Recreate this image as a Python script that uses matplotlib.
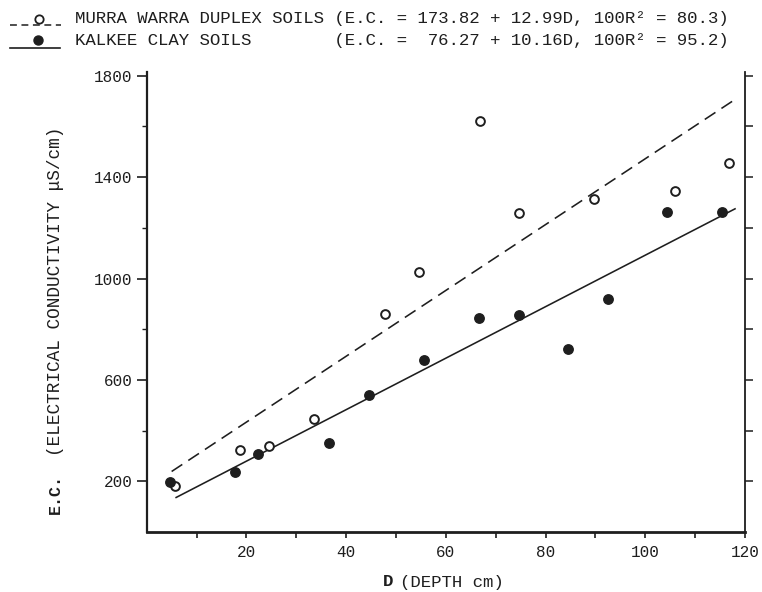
import matplotlib.pyplot as plt
from matplotlib.lines import Line2D
from matplotlib.ticker import FixedLocator

# Murra Warra duplex soils (open circles)
mw_depth = [5.6, 18.8, 24.6, 33.6, 47.7, 54.6, 66.8, 74.6, 89.8, 105.9, 116.7]
mw_ec = [182, 323, 341, 446, 862, 1026, 1623, 1258, 1312, 1346, 1454]

# Kalkee clay soils (filled circles)
kc_depth = [4.7, 17.8, 22.3, 36.6, 44.6, 55.7, 66.7, 74.7, 84.5, 92.6, 104.4, 115.4]
kc_ec = [198, 236, 307, 352, 542, 679, 844, 855, 722, 918, 1262, 1263]

# regression lines  E.C. = a + b*D
mw_fit = (173.82, 12.99)
kc_fit = (76.27, 10.16)
mw_span = (5.0, 118.5)
kc_span = (5.9, 118.0)

x_major = [20, 40, 60, 80, 100, 120]
x_minor = [10, 30, 50, 70, 90, 110]
y_major = [200, 600, 1000, 1400, 1800]
y_minor = [400, 800, 1200, 1600]
y_right = [200, 400, 600, 800, 1000, 1200, 1400, 1600, 1800]

mw_text = "MURRA WARRA DUPLEX SOILS (E.C. = 173.82 + 12.99D, 100R² = 80.3)"
kc_text = "KALKEE CLAY SOILS        (E.C. =  76.27 + 10.16D, 100R² = 95.2)"

ink = '#1e1e1e'
mono = 'Liberation Mono'
W, H = 762, 592


def fpos(x, y):
    # pixel position (from top-left) -> figure fraction
    return x / W, 1 - y / H


fig = plt.figure(figsize=(W / 100, H / 100), dpi=100)
ax = fig.add_axes([146.7 / W, 60 / H, (745 - 146.7) / W, 460 / H])

# fitted lines
for (a, b), (d0, d1), ls in [(mw_fit, mw_span, '--'), (kc_fit, kc_span, '-')]:
    line, = ax.plot([d0, d1], [a + b * d0, a + b * d1], color=ink, lw=1.15, ls=ls)
    if ls == '--':
        line.set_dashes((8, 4.5))

ax.plot(mw_depth, mw_ec, 'o', ms=6.3, mfc='white', mec=ink, mew=1.4, zorder=3)
ax.plot(kc_depth, kc_ec, 'o', ms=6.8, mfc=ink, mec=ink, zorder=3)

ax.set_xlim(0, 120)
ax.set_ylim(0, 1815)

ax.spines['top'].set_visible(False)
ax.spines['right'].set_visible(False)
ax.spines['left'].set_linewidth(1.6)
ax.spines['bottom'].set_linewidth(2.0)
for s in ('left', 'bottom'):
    ax.spines[s].set_color(ink)

ax.xaxis.set_major_locator(FixedLocator(x_major))
ax.xaxis.set_minor_locator(FixedLocator(x_minor))
ax.yaxis.set_major_locator(FixedLocator(y_major))
ax.yaxis.set_minor_locator(FixedLocator(y_minor))
ax.tick_params(axis='x', which='both', direction='out', length=4.5, width=1.2,
               color=ink, pad=5, labelsize=11.5, labelcolor=ink)
ax.tick_params(axis='y', which='major', direction='out', length=7, width=1.2,
               color=ink, pad=3, labelsize=11.5, labelcolor=ink)
ax.tick_params(axis='y', which='minor', direction='out', length=3.5, width=1.0, color=ink)
for lab in ax.get_xticklabels() + ax.get_yticklabels():
    lab.set_family(mono)

# right-hand axis: ticks only
ax2 = ax.twinx()
ax2.set_ylim(ax.get_ylim())
ax2.yaxis.set_major_locator(FixedLocator(y_right))
ax2.set_yticklabels([])
ax2.tick_params(axis='y', direction='out', length=5.5, width=1.1, color=ink)
for s in ('left', 'top', 'bottom'):
    ax2.spines[s].set_visible(False)
ax2.spines['right'].set_linewidth(1.3)
ax2.spines['right'].set_color(ink)

# axis titles (bold part + plain part)
fig.text(*fpos(55, 494), 'E.C.', rotation=90, ha='center', va='center',
         family=mono, weight='bold', fontsize=12, color=ink)
fig.text(*fpos(55, 291), '(ELECTRICAL CONDUCTIVITY μS/cm)', rotation=90,
         ha='center', va='center', family=mono, fontsize=12.8, color=ink)
fig.text(*fpos(388, 582), 'D', ha='center', va='center', family=mono,
         weight='bold', fontsize=12.5, color=ink)
fig.text(*fpos(400, 582), '(DEPTH cm)', ha='left', va='center', family=mono,
         fontsize=12.5, color=ink)

# legend drawn by hand at the top
dash = Line2D([fpos(10, 0)[0], fpos(61, 0)[0]], [fpos(0, 25)[1]] * 2,
              transform=fig.transFigure, color=ink, lw=1.1)
dash.set_dashes((4.5, 3))
fig.add_artist(dash)
fig.add_artist(Line2D([fpos(39, 0)[0]], [fpos(0, 19)[1]], transform=fig.transFigure,
                      marker='o', ms=6, mfc='white', mec=ink, mew=1.3))
fig.add_artist(Line2D([fpos(10, 0)[0], fpos(60, 0)[0]], [fpos(0, 48)[1]] * 2,
                      transform=fig.transFigure, color=ink, lw=1.2))
fig.add_artist(Line2D([fpos(38, 0)[0]], [fpos(0, 40)[1]], transform=fig.transFigure,
                      marker='o', ms=6.5, mfc=ink, mec=ink))
fig.text(*fpos(75, 18), mw_text, ha='left', va='center', family=mono,
         fontsize=12.5, color=ink)
fig.text(*fpos(75, 40), kc_text, ha='left', va='center', family=mono,
         fontsize=12.5, color=ink)

fig.savefig('out.png', dpi=100, facecolor='white')
